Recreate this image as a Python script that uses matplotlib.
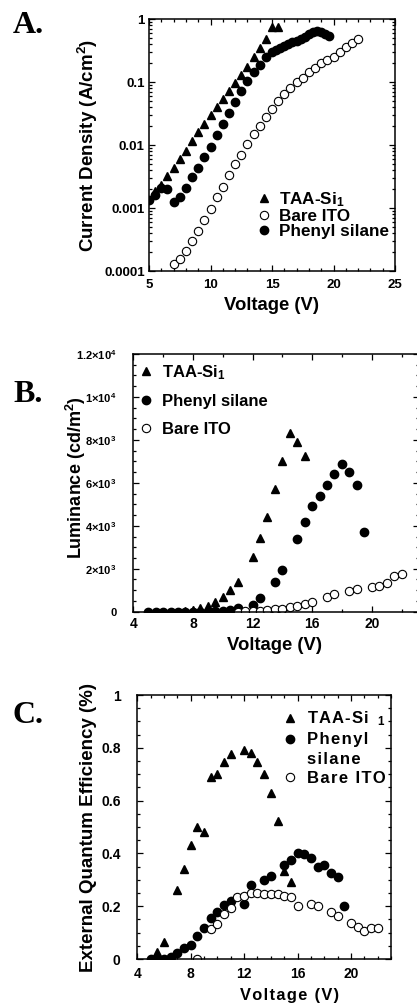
import numpy as np
import matplotlib
matplotlib.use("Agg")
import matplotlib.pyplot as plt
from matplotlib.ticker import MultipleLocator, LogLocator, NullFormatter, FixedLocator, FixedFormatter
from matplotlib.lines import Line2D

plt.rcParams['font.family'] = ['Liberation Sans', 'DejaVu Sans']
plt.rcParams['font.weight'] = 'bold'
plt.rcParams['axes.labelweight'] = 'bold'
plt.rcParams['mathtext.fontset'] = 'custom'
plt.rcParams['mathtext.rm'] = 'Liberation Sans:bold'
plt.rcParams['mathtext.it'] = 'Liberation Sans:bold'
plt.rcParams['mathtext.bf'] = 'Liberation Sans:bold'
plt.rcParams['axes.linewidth'] = 1.1

# ---- panel A : current density (log) ----
taa_v_a = [5.5, 6.0, 6.5, 7.0, 7.5, 8.0, 8.5, 9.0, 9.5, 10.0, 10.5, 11.0, 11.5, 12.0,
           12.5, 13.0, 13.5, 14.0, 14.5, 15.0, 15.5]
taa_j_a = [1.9e-3, 2.3e-3, 3.2e-3, 4.3e-3, 6.0e-3, 8.2e-3, 0.0115, 0.016, 0.022, 0.030,
           0.040, 0.054, 0.073, 0.098, 0.13, 0.177, 0.25, 0.35, 0.48, 0.75, 0.76]
ph_v_a = [5.0, 5.5, 6.0, 6.5, 7.0, 7.5, 8.0, 8.5, 9.0, 9.5, 10.0, 10.5, 11.0, 11.5, 12.0,
          12.5, 13.0, 13.5, 14.0, 14.5, 15.0, 15.33, 15.66, 16.0, 16.33, 16.66, 17.0,
          17.33, 17.66, 18.0, 18.33, 18.66, 19.0, 19.33, 19.66]
ph_j_a = [1.35e-3, 1.6e-3, 2.1e-3, 2.0e-3, 1.26e-3, 1.5e-3, 2.1e-3, 3.1e-3, 4.4e-3, 6.4e-3,
          9.5e-3, 0.0145, 0.022, 0.033, 0.049, 0.072, 0.105, 0.147, 0.19, 0.25, 0.30,
          0.33, 0.355, 0.375, 0.40, 0.43, 0.455, 0.485, 0.52, 0.575, 0.62, 0.65, 0.62,
          0.58, 0.55]
ito_v_a = [7.0, 7.5, 8.0, 8.5, 9.0, 9.5, 10.0, 10.5, 11.0, 11.5, 12.0, 12.5, 13.0, 13.5,
           14.0, 14.5, 15.0, 15.5, 16.0, 16.5, 17.0, 17.5, 18.0, 18.5, 19.0, 19.5, 20.0,
           20.5, 21.0, 21.5, 22.0]
ito_j_a = [1.28e-4, 1.55e-4, 2.1e-4, 3.0e-4, 4.3e-4, 6.4e-4, 9.6e-4, 1.5e-3, 2.2e-3, 3.4e-3,
           5.0e-3, 7.1e-3, 0.0105, 0.015, 0.020, 0.028, 0.0376, 0.051, 0.064, 0.082, 0.102,
           0.118, 0.147, 0.17, 0.20, 0.226, 0.255, 0.306, 0.36, 0.425, 0.48]

# ---- panel B : luminance ----
taa_v_b = [5.0, 5.5, 6.0, 6.5, 7.0, 7.5, 8.0, 8.5, 9.0, 9.5, 10.0, 10.5, 11.0, 12.0, 12.5,
           13.0, 13.5, 14.0, 14.5, 15.0, 15.5]
taa_l_b = [0, 0, 0, 0, 5, 10, 60, 180, 260, 466, 700, 1000, 1360, 2550, 3420, 4410, 5700,
           7030, 8310, 7920, 7250]
ph_v_b = [5.0, 5.5, 6.0, 6.5, 7.0, 7.5, 8.0, 8.5, 9.0, 9.5, 10.0, 10.5, 11.0, 12.0, 12.5,
          13.5, 14.0, 15.0, 15.5, 16.0, 16.5, 17.0, 17.5, 18.0, 18.5, 19.0, 19.5]
ph_l_b = [0, 0, 0, 0, 0, 0, 0, 0, 0, 10, 20, 60, 180, 330, 650, 1390, 1930, 3400, 4190,
          4920, 5390, 5900, 6400, 6870, 6520, 5900, 3700]
ito_v_b = [11.0, 11.5, 12.0, 12.5, 13.0, 13.5, 14.0, 14.5, 15.0, 15.5, 16.0, 17.0, 17.5,
           18.5, 19.0, 20.0, 20.5, 21.0, 21.5, 22.0]
ito_l_b = [5, 10, 20, 40, 75, 105, 145, 210, 280, 360, 470, 700, 810, 980, 1070, 1140, 1210,
           1320, 1680, 1740]
lum_ticks = [0, 2000, 4000, 6000, 8000, 10000, 12000]
lum_labels = ['0', r'2$\times$10$^3$', r'4$\times$10$^3$', r'6$\times$10$^3$',
              r'8$\times$10$^3$', r'1$\times$10$^4$', r'1.2$\times$10$^4$']

# ---- panel C : EQE ----
taa_v_c = [5.5, 6.0, 7.0, 7.5, 8.0, 8.5, 9.0, 9.5, 10.0, 10.5, 11.0, 12.0, 12.5, 13.0,
           13.5, 14.0, 14.5, 15.0, 15.5]
taa_e_c = [0.028, 0.066, 0.261, 0.34, 0.432, 0.501, 0.482, 0.69, 0.70, 0.747, 0.775, 0.79,
           0.78, 0.747, 0.70, 0.63, 0.523, 0.335, 0.293]
ph_v_c = [5.0, 5.5, 6.0, 6.5, 7.0, 7.5, 8.0, 8.5, 9.0, 9.5, 10.0, 10.5, 11.0, 12.0, 12.5,
          13.5, 14.0, 15.0, 15.5, 16.0, 16.5, 17.0, 17.5, 18.0, 18.5, 19.0, 19.5]
ph_e_c = [0, 0, 0, 0.006, 0.024, 0.04, 0.053, 0.087, 0.118, 0.157, 0.179, 0.203, 0.219,
          0.207, 0.28, 0.30, 0.314, 0.356, 0.375, 0.40, 0.398, 0.384, 0.347, 0.356, 0.325,
          0.31, 0.20]
ito_v_c = [8.5, 9.5, 10.0, 10.5, 11.0, 11.5, 12.0, 12.5, 13.0, 13.5, 14.0, 14.5, 15.0,
           15.5, 16.0, 17.0, 17.5, 18.5, 19.0, 20.0, 20.5, 21.0, 21.5, 22.0]
ito_e_c = [0, 0.112, 0.131, 0.169, 0.194, 0.234, 0.24, 0.249, 0.249, 0.245, 0.245, 0.245,
           0.239, 0.234, 0.20, 0.208, 0.20, 0.177, 0.164, 0.135, 0.122, 0.107, 0.119, 0.116]

W, H = 417, 1005
fig = plt.figure(figsize=(W / 100, H / 100), dpi=100)


def box(l, t, r, b):
    # pixel box -> figure fraction
    return [l / W, 1 - b / H, (r - l) / W, (b - t) / H]


def spaced(s):
    return '\u200a'.join(s)


def style(ax, lsize, pad_x, pad_y):
    ax.tick_params(which='both', direction='in', top=True, right=True, width=0.9)
    ax.tick_params(which='major', length=4)
    ax.tick_params(which='minor', length=2.2)
    ax.tick_params(axis='x', labelsize=lsize, pad=pad_x)
    ax.tick_params(axis='y', pad=pad_y)


tri = dict(marker='^', ls='none', color='black', ms=5.5)
dot = dict(marker='o', ls='none', color='black', ms=6)
ring = dict(marker='o', ls='none', mfc='white', mec='black', mew=0.8, ms=6)

# A
axA = fig.add_axes(box(149, 19.3, 395, 271))
axA.plot(ito_v_a, ito_j_a, **ring)
axA.plot(ph_v_a, ph_j_a, **dot)
axA.plot(taa_v_a, taa_j_a, **tri)
axA.set_yscale('log')
axA.set_xlim(5, 25)
axA.set_ylim(1e-4, 1)
axA.xaxis.set_major_locator(MultipleLocator(5))
axA.xaxis.set_minor_locator(MultipleLocator(1))
axA.yaxis.set_major_locator(FixedLocator([1e-4, 1e-3, 1e-2, 0.1, 1]))
axA.yaxis.set_major_formatter(FixedFormatter(['0.0001', '0.001', '0.01', '0.1', '1']))
axA.yaxis.set_minor_locator(LogLocator(base=10, subs=np.arange(2, 10)))
axA.yaxis.set_minor_formatter(NullFormatter())
style(axA, 9.5, 6, 3)
axA.tick_params(axis='y', labelsize=9.5)
axA.set_xlabel('Voltage (V)', fontsize=13.3)
axA.set_ylabel('Current Density (A/cm$^2$)', fontsize=13.5)
axA.yaxis.set_label_coords(-0.2, 0.5)
axA.xaxis.set_label_coords(0.5, -0.105)
hA = [Line2D([], [], **tri), Line2D([], [], **ring), Line2D([], [], **dot)]
axA.legend(hA, ['TAA-Si$_1$', 'Bare ITO', 'Phenyl silane'], loc='upper left',
           bbox_to_anchor=(0.44, 0.32), frameon=False, fontsize=12.3, handlelength=0.8,
           handletextpad=0.5, labelspacing=0.0, borderpad=0, borderaxespad=0)

# B
axB = fig.add_axes(box(133.3, 354, 418.5, 611.7))
axB.plot(taa_v_b, taa_l_b, **tri)
axB.plot(ph_v_b, ph_l_b, **dot)
axB.plot(ito_v_b, ito_l_b, **ring)
axB.set_xlim(4, 4 + (418.5 - 133.3) / 14.9)
axB.set_ylim(0, 12000)
axB.xaxis.set_major_locator(MultipleLocator(4))
axB.xaxis.set_minor_locator(MultipleLocator(2))
axB.yaxis.set_major_locator(FixedLocator(lum_ticks))
axB.yaxis.set_major_formatter(FixedFormatter(lum_labels))
axB.yaxis.set_minor_locator(MultipleLocator(500))
style(axB, 10, 3.5, 12)
axB.tick_params(axis='y', labelsize=8)
axB.set_xlabel('Voltage (V)', fontsize=13.3)
axB.set_ylabel('Luminance (cd/m$^2$)', fontsize=13)
axB.yaxis.set_label_coords(-0.159, 0.52)
axB.xaxis.set_label_coords(0.494, -0.1)
hB = [Line2D([], [], **tri), Line2D([], [], **dot), Line2D([], [], **ring)]
axB.legend(hB, ['TAA-Si$_1$', 'Phenyl silane', 'Bare ITO'], loc='upper left',
           bbox_to_anchor=(0.02, 0.965), frameon=False, fontsize=12, handlelength=0.8,
           handletextpad=0.6, labelspacing=0.75, borderpad=0, borderaxespad=0)

# C
axC = fig.add_axes(box(137.3, 695, 391, 959))
axC.plot(taa_v_c, taa_e_c, **tri)
axC.plot(ph_v_c, ph_e_c, **dot)
axC.plot(ito_v_c, ito_e_c, **ring)
axC.set_xlim(4, 23)
axC.set_ylim(0, 1)
axC.xaxis.set_major_locator(MultipleLocator(4))
axC.xaxis.set_minor_locator(MultipleLocator(1))
axC.yaxis.set_major_locator(FixedLocator([0, 0.2, 0.4, 0.6, 0.8, 1.0]))
axC.yaxis.set_major_formatter(FixedFormatter(['0', '0.2', '0.4', '0.6', '0.8', '1']))
axC.yaxis.set_minor_locator(MultipleLocator(0.05))
style(axC, 10, 6, 12)
axC.tick_params(axis='y', labelsize=10)
axC.set_xlabel(spaced('Voltage (V)'), fontsize=11.8)
axC.set_ylabel('External Quantum Efficiency (%)', fontsize=13.5)
axC.yaxis.set_label_coords(-0.159, 0.5)
axC.xaxis.set_label_coords(0.60, -0.11)
taa_c_label = r'$\hspace{0.08}$'.join('TAA-Si') + r'$\hspace{0.6}_{1}$'
hC = [Line2D([], [], **tri), Line2D([], [], **dot), Line2D([], [], ls='none'),
      Line2D([], [], **ring)]
axC.legend(hC, [taa_c_label, spaced('Phenyl'), spaced('silane'), spaced('Bare ITO')],
           loc='upper left', bbox_to_anchor=(0.575, 0.945), frameon=False, fontsize=12,
           handlelength=0.8, handletextpad=0.6, labelspacing=0.25, borderpad=0,
           borderaxespad=0)

for lab, y in [('A.', 33), ('B.', 402), ('C.', 723)]:
    fig.text(13 / W, 1 - y / H, lab, family='Liberation Serif', weight='bold',
             fontsize=23, va='baseline', ha='left')

fig.savefig('out.png', dpi=100)
